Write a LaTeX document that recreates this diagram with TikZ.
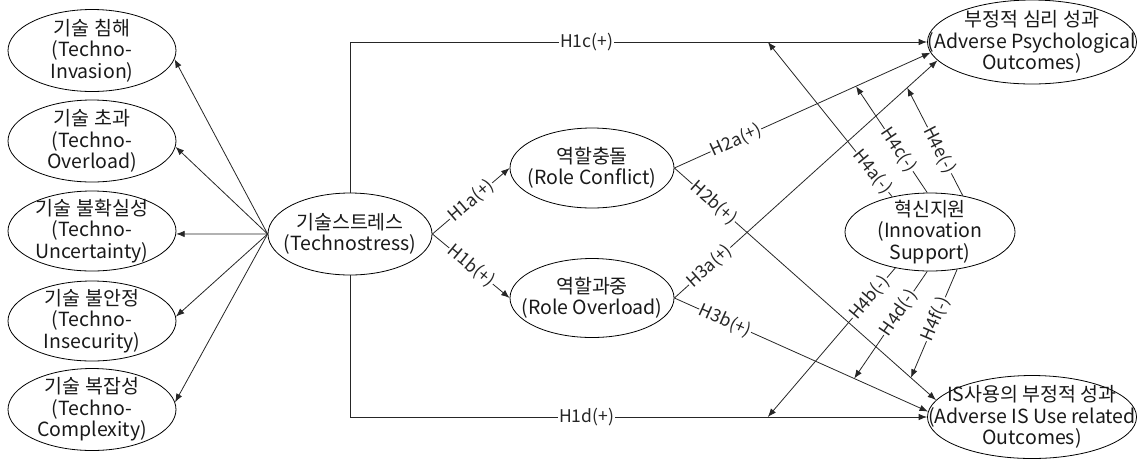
\documentclass[tikz,border=0pt]{standalone}
\usepackage{fontspec}
\setmainfont{Noto Sans CJK KR}
\usetikzlibrary{shapes.geometric,arrows.meta}
\begin{document}
\begin{tikzpicture}[x=1pt,y=-1pt,
  ell/.style={draw=black, ellipse, inner sep=0pt, line width=0.8pt},
  txt/.style={align=center, font=\fontsize{19.5}{21.5}\selectfont, inner sep=0pt, text=black!90},
  arr/.style={draw=black!85, line width=0.8pt, -{Latex[length=8.5pt,width=6.5pt]}},
  lbl/.style={fill=white, inner sep=0.8pt, font=\fontsize{17.5}{19}\selectfont, text=black!85}]
\useasboundingbox (0,0) rectangle (1140,459);
% left factor ellipses
\node[ell, minimum width=168pt, minimum height=82pt, label={[txt]center:{기술 침해\\(Techno-\\Invasion)}}] (t1) at (92,50.5) {};
\node[ell, minimum width=168pt, minimum height=82pt, label={[txt]center:{기술 초과\\(Techno-\\Overload)}}] (t2) at (92,141) {};
\node[ell, minimum width=168pt, minimum height=80pt, label={[txt]center:{기술 불확실성\\(Techno-\\Uncertainty)}}] (t3) at (92,231) {};
\node[ell, minimum width=168pt, minimum height=80pt, label={[txt]center:{기술 불안정\\(Techno-\\Insecurity)}}] (t4) at (92,321) {};
\node[ell, minimum width=168pt, minimum height=82pt, label={[txt]center:{기술 복잡성\\(Techno-\\Complexity)}}] (t5) at (92,409.5) {};
% central
\node[ell, minimum width=164pt, minimum height=82pt, label={[txt]center:{기술스트레스\\(Technostress)}}] (ts) at (350,234) {};
\node[ell, minimum width=164pt, minimum height=80pt, label={[txt]center:{역할충돌\\(Role Conflict)}}] (rc) at (592,168) {};
\node[ell, minimum width=164pt, minimum height=79pt, label={[txt]center:{역할과중\\(Role Overload)}}] (ro) at (592,298) {};
\node[ell, minimum width=209pt, minimum height=84pt, label={[txt]center:{부정적 심리 성과\\(Adverse Psychological\\Outcomes)}}] (po) at (1032,42) {};
\node[ell, minimum width=209pt, minimum height=83pt, label={[txt]center:{IS사용의 부정적 성과\\(Adverse IS Use related\\Outcomes)}}] (pi) at (1032,417) {};
\node[ell, minimum width=170pt, minimum height=78pt, label={[txt]center:{혁신지원\\(Innovation\\Support)}}] (is) at (930,232) {};
% technostress to factors
\draw[arr] (ts.west) -- (t1.-6);
\draw[arr] (ts.west) -- (t2.-4);
\draw[arr] (ts.west) -- (t3.-2);
\draw[arr] (ts.west) -- (t4.3);
\draw[arr] (ts.west) -- (t5.5);
% H1
\draw[arr] (ts.east) -- node[lbl,sloped]{H1a(+)} (rc.west);
\draw[arr] (ts.east) -- node[lbl,sloped]{H1b(+)} (ro.west);
\draw[arr] (ts.north) |- node[lbl,pos=0.705]{H1c(+)} coordinate[pos=0.862] (h4a) (po.west);
\draw[arr] (ts.south) |- node[lbl,pos=0.705]{H1d(+)} coordinate[pos=0.862] (h4b) (pi.west);
% H2, H3
\draw[arr] (rc.east) -- node[lbl,sloped,pos=0.24]{H2a(+)} coordinate[pos=0.709] (h4c) (po.186);
\draw[arr] (rc.east) -- node[lbl,sloped,pos=0.15]{H2b(+)} coordinate[pos=0.904] (h4f) (pi.170);
\draw[arr] (ro.east) -- node[lbl,sloped,pos=0.134]{H3a(+)} coordinate[pos=0.885] (h4e) (po.191);
\draw[arr] (ro.east) -- node[lbl,sloped,pos=0.2]{H3b(+)} coordinate[pos=0.709] (h4d) (pi.177);
% H4 moderation
\draw[arr] (is.137) -- node[lbl,sloped,pos=0.16]{H4a(-)} (h4a);
\draw[arr] (is.94) -- node[lbl,sloped,pos=0.4]{H4c(-)} (h4c);
\draw[arr] (is.48) -- node[lbl,sloped,pos=0.42]{H4e(-)} (h4e);
\draw[arr] (is.226) -- node[lbl,sloped,pos=0.2]{H4b(-)} (h4b);
\draw[arr] (is.266) -- node[lbl,sloped,pos=0.39]{H4d(-)} (h4d);
\draw[arr] (is.306) -- node[lbl,sloped,pos=0.46]{H4f(-)} (h4f);
\end{tikzpicture}
\end{document}
